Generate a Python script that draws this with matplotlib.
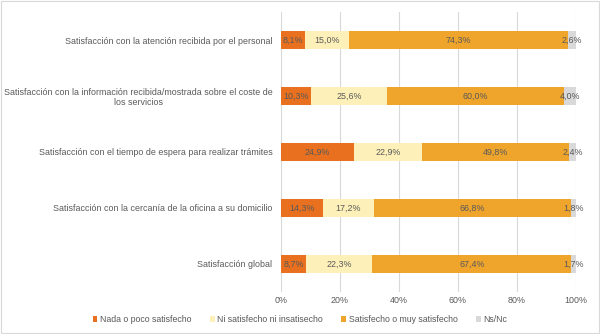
import matplotlib
matplotlib.use("Agg")
import matplotlib.pyplot as plt
from matplotlib.patches import Rectangle

plt.rcParams["font.family"] = ["Liberation Sans", "DejaVu Sans"]

categories = [
    "Satisfacción con la atención recibida por el personal",
    "Satisfacción con la información recibida/mostrada sobre el coste de\nlos servicios",
    "Satisfacción con el tiempo de espera para realizar trámites",
    "Satisfacción con la cercanía de la oficina a su domicilio",
    "Satisfacción global",
]
series_names = [
    "Nada o poco satisfecho",
    "Ni satisfecho ni insatisecho",
    "Satisfecho o muy satisfecho",
    "Ns/Nc",
]
nada = [8.1, 10.3, 24.9, 14.3, 8.7]
ni = [15.0, 25.6, 22.9, 17.2, 22.3]
satisfecho = [74.3, 60.0, 49.8, 66.8, 67.4]
nsnc = [2.6, 4.0, 2.4, 1.8, 1.7]
tick_values = [0, 20, 40, 60, 80, 100]

colors = ["#E8701E", "#FDF0B9", "#EFA42C", "#D9D9D9"]
text_color = "#595959"
fs = 6.4

fig = plt.figure(figsize=(6.0, 3.34), dpi=100)
ax = fig.add_axes([0.468, 0.126, 0.492, 0.838])

y = list(range(len(categories)))
left = [0.0] * len(categories)
for vals, color, name in zip([nada, ni, satisfecho, nsnc], colors, series_names):
    ax.barh(y, vals, left=left, height=0.31, color=color, label=name, zorder=2)
    for yi, (l, v) in enumerate(zip(left, vals)):
        ax.text(l + v / 2, yi, f"{v:.1f}%".replace(".", ","), ha="center", va="center",
                fontsize=fs, color=text_color, zorder=3)
    left = [l + v for l, v in zip(left, vals)]

ax.set_xlim(0, 100)
ax.set_ylim(len(categories) - 0.5, -0.5)
ax.set_xticks(tick_values)
ax.set_xticklabels([f"{t}%" for t in tick_values], fontsize=fs, color=text_color)
ax.set_yticks(y)
ax.set_yticklabels(categories, fontsize=fs, color=text_color, multialignment="center")
ax.tick_params(axis="x", length=0, pad=3)
ax.tick_params(axis="y", length=0, pad=6)
ax.grid(axis="x", color="#D9D9D9", linewidth=0.8, zorder=0)
for s in ax.spines.values():
    s.set_visible(False)

fig.legend(loc="center", bbox_to_anchor=(0.5, 0.043), ncol=4, frameon=False,
           fontsize=6.3, handlelength=0.55, handleheight=0.55, handletextpad=0.3,
           columnspacing=2.1, labelcolor=text_color)

fig.patches.append(Rectangle((0.002, 0.004), 0.996, 0.992, transform=fig.transFigure,
                             fill=False, edgecolor="#D9D9D9", linewidth=0.8))

fig.savefig("out.png", dpi=100)
